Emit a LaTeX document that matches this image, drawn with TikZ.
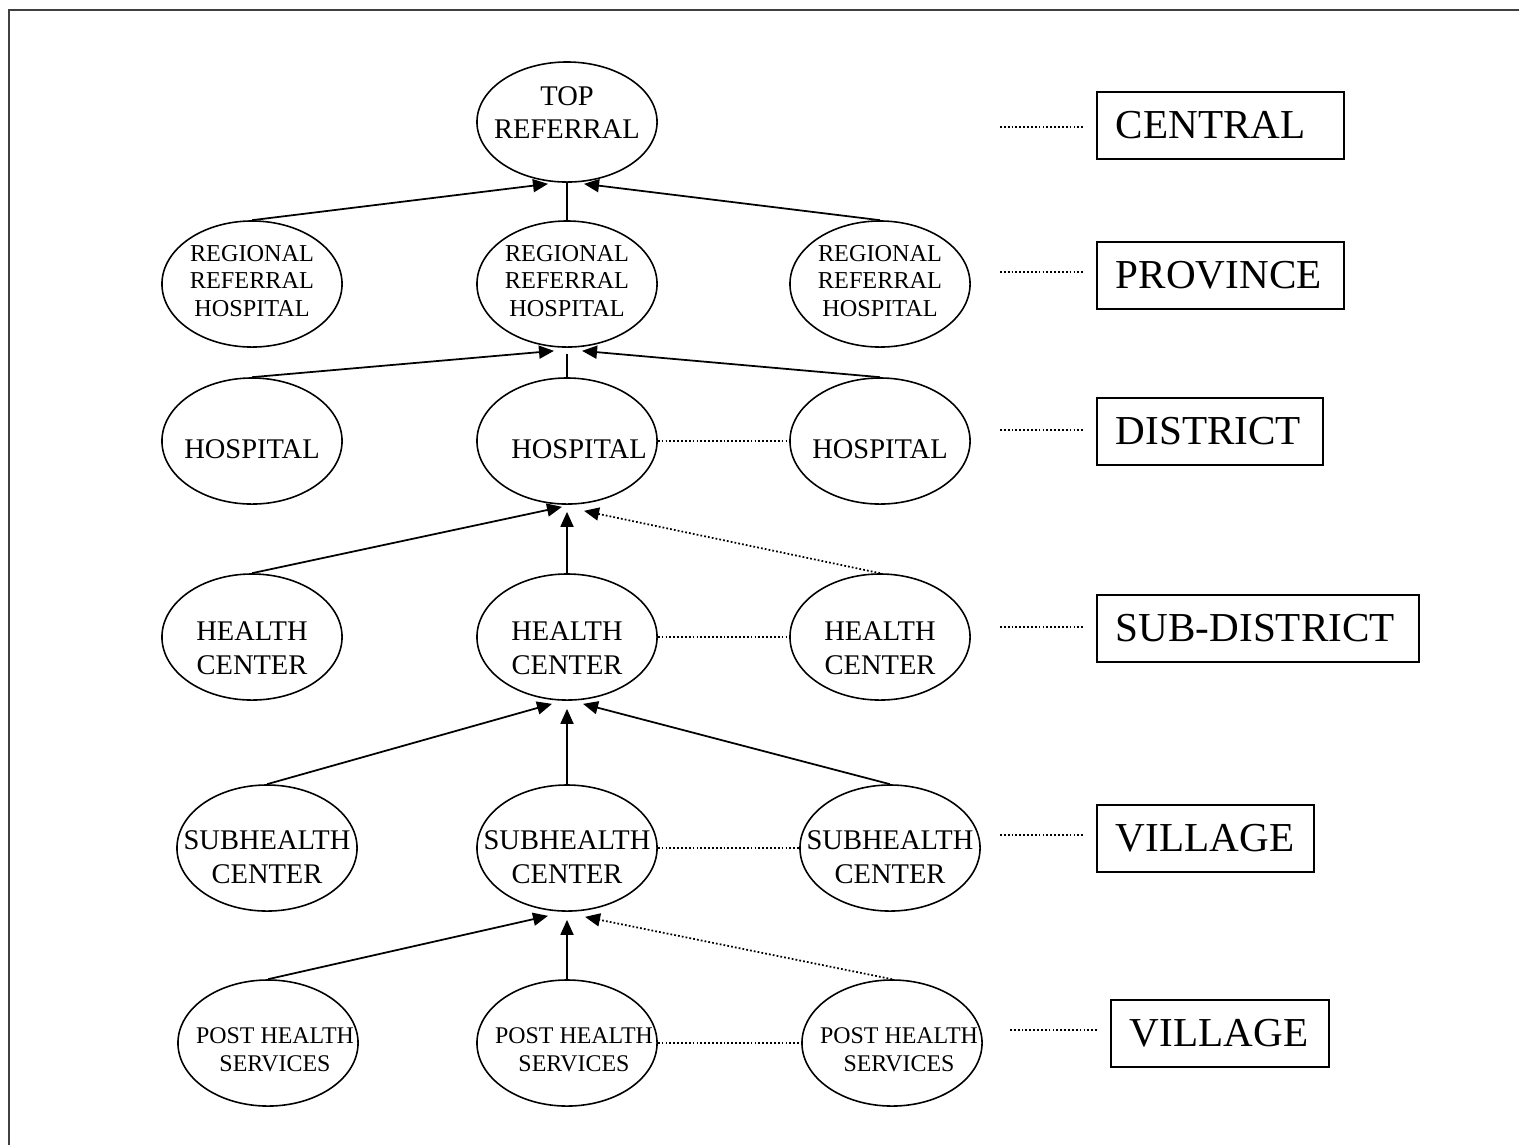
\documentclass[tikz,border=0pt]{standalone}
\usepackage{fontspec}
\setmainfont{Liberation Serif}
\usetikzlibrary{shapes,positioning,arrows.meta}

\begin{document}
\begin{tikzpicture}[x=0.01cm,y=-0.01cm,
    unit/.style={draw,ellipse,line width=0.45pt,minimum width=1.8cm,
        minimum height=1.26cm,inner sep=0pt},
    txt/.style={align=center,inner sep=0pt,
        font=\fontsize{8.1}{9.6}\selectfont},
    tight/.style={font=\fontsize{6.9}{7.9}\selectfont},
    tier/.style={draw,rectangle,line width=0.5pt,anchor=west,align=left,
        inner xsep=0.19cm,minimum height=0.67cm,
        font=\fontsize{11.7}{12}\selectfont},
    dots/.style={line width=0.5pt,dash pattern=on 0.5pt off 0.6pt},
    up/.style={-{Triangle[length=0.15cm,width=0.13cm]}}]

        \useasboundingbox (0,0) rectangle (1519,1144);
        \clip (0,0) rectangle (1519,1144);

        % page frame, only left and top edges fall inside
        \draw[line width=0.6pt,black!75] (9,10) rectangle (1560,1180);

        % the referral pyramid
        \begin{scope}
            \node[unit,minimum height=1.2cm,
                label={[txt,yshift=0.095cm]center:TOP\\REFERRAL}] (T) at (567,122) {};

            \node[unit,label={[txt,tight,yshift=0.03cm]center:REGIONAL\\REFERRAL\\HOSPITAL}]
                (R1) at (252,284) {};
            \node[unit,label={[txt,tight,yshift=0.03cm]center:REGIONAL\\REFERRAL\\HOSPITAL}]
                (R2) at (567,284) {};
            \node[unit,label={[txt,tight,yshift=0.03cm]center:REGIONAL\\REFERRAL\\HOSPITAL}]
                (R3) at (880,284) {};

            \node[unit,label={[txt,yshift=-0.08cm]center:HOSPITAL}] (H1) at (252,441) {};
            \node[unit,label={[txt,xshift=0.12cm,yshift=-0.08cm]center:HOSPITAL}] (H2) at (567,441) {};
            \node[unit,label={[txt,yshift=-0.08cm]center:HOSPITAL}] (H3) at (880,441) {};

            \node[unit,label={[txt,yshift=-0.11cm]center:HEALTH\\CENTER}] (C1) at (252,637) {};
            \node[unit,label={[txt,yshift=-0.11cm]center:HEALTH\\CENTER}] (C2) at (567,637) {};
            \node[unit,label={[txt,yshift=-0.11cm]center:HEALTH\\CENTER}] (C3) at (880,637) {};

            \node[unit,label={[txt,yshift=-0.09cm]center:SUBHEALTH\\CENTER}] (S1) at (267,848) {};
            \node[unit,label={[txt,yshift=-0.09cm]center:SUBHEALTH\\CENTER}] (S2) at (567,848) {};
            \node[unit,label={[txt,yshift=-0.09cm]center:SUBHEALTH\\CENTER}] (S3) at (890,848) {};

            \node[unit,label={[txt,tight,font=\fontsize{6.8}{7.9}\selectfont,xshift=0.07cm,yshift=-0.07cm]center:POST HEALTH\\SERVICES}]
                (P1) at (268,1043) {};
            \node[unit,label={[txt,tight,font=\fontsize{6.8}{7.9}\selectfont,xshift=0.07cm,yshift=-0.07cm]center:POST HEALTH\\SERVICES}]
                (P2) at (567,1043) {};
            \node[unit,label={[txt,tight,font=\fontsize{6.8}{7.9}\selectfont,xshift=0.07cm,yshift=-0.07cm]center:POST HEALTH\\SERVICES}]
                (P3) at (892,1043) {};
        \end{scope}

        % administrative levels
        \begin{scope}
            \node[tier,text width=2.09cm] (L1) at (1096,125.5) {CENTRAL};
            \node[tier,text width=2.09cm] (L2) at (1096,275.5) {PROVINCE};
            \node[tier,text width=1.88cm] (L3) at (1096,431.5) {DISTRICT};
            \node[tier,text width=2.84cm] (L4) at (1096,628.5) {SUB-DISTRICT};
            \node[tier,text width=1.79cm] (L5) at (1096,838.5) {VILLAGE};
            \node[tier,text width=1.80cm] (L6) at (1110,1033.5) {VILLAGE};

            \coordinate (d1) at (1000,127);
            \coordinate (d2) at (1000,272);
            \coordinate (d3) at (1000,430);
            \coordinate (d4) at (1000,627);
            \coordinate (d5) at (1000,835);
            \coordinate (d6) at (1010,1030);
        \end{scope}

        \begin{scope}[shorten >=0.13cm]
            \draw[dots] (d1) -- (d1 -| L1.west);
            \draw[dots] (d2) -- (d2 -| L2.west);
            \draw[dots] (d3) -- (d3 -| L3.west);
            \draw[dots] (d4) -- (d4 -| L4.west);
            \draw[dots] (d5) -- (d5 -| L5.west);
            \draw[dots] (d6) -- (d6 -| L6.west);
        \end{scope}

        \begin{scope}[line width=0.5pt]
            % province -> central
            \draw[up] (R1.north) -- ([xshift=-0.19cm,yshift=-0.01cm]T.south);
            \draw (R2.north) -- (T.south);
            \draw[up] (R3.north) -- ([xshift=0.17cm,yshift=-0.01cm]T.south);
            % district -> province
            \draw[up] (H1.north) -- ([xshift=-0.13cm,yshift=-0.03cm]R2.south);
            \draw (H2.north) -- ([yshift=-0.06cm]R2.south);
            \draw[up] (H3.north) -- ([xshift=0.15cm,yshift=-0.03cm]R2.south);
            % sub-district -> district
            \draw[up] (C1.north) -- ([xshift=-0.05cm,yshift=-0.02cm]H2.south);
            \draw[up] (C2.north) -- ([yshift=-0.07cm]H2.south);
            \draw[up,dots] (C3.north) -- ([xshift=0.17cm,yshift=-0.06cm]H2.south);
            % village -> sub-district
            \draw[up] (S1.north) -- ([xshift=-0.15cm,yshift=-0.03cm]C2.south);
            \draw[up] (S2.north) -- ([yshift=-0.08cm]C2.south);
            \draw[up] (S3.north) -- ([xshift=0.16cm,yshift=-0.03cm]C2.south);
            % post -> subhealth
            \draw[up] (P1.north) -- ([xshift=-0.19cm,yshift=-0.04cm]S2.south);
            \draw[up] (P2.north) -- ([yshift=-0.08cm]S2.south);
            \draw[up,dots] (P3.north) -- ([xshift=0.18cm,yshift=-0.05cm]S2.south);
        \end{scope}

        % links between neighbouring units
        \draw[dots] (H2.east) -- (H3.west);
        \draw[dots] (C2.east) -- (C3.west);
        \draw[dots] (S2.east) -- (S3.west);
        \draw[dots] (P2.east) -- (P3.west);

\end{tikzpicture}
\end{document}
